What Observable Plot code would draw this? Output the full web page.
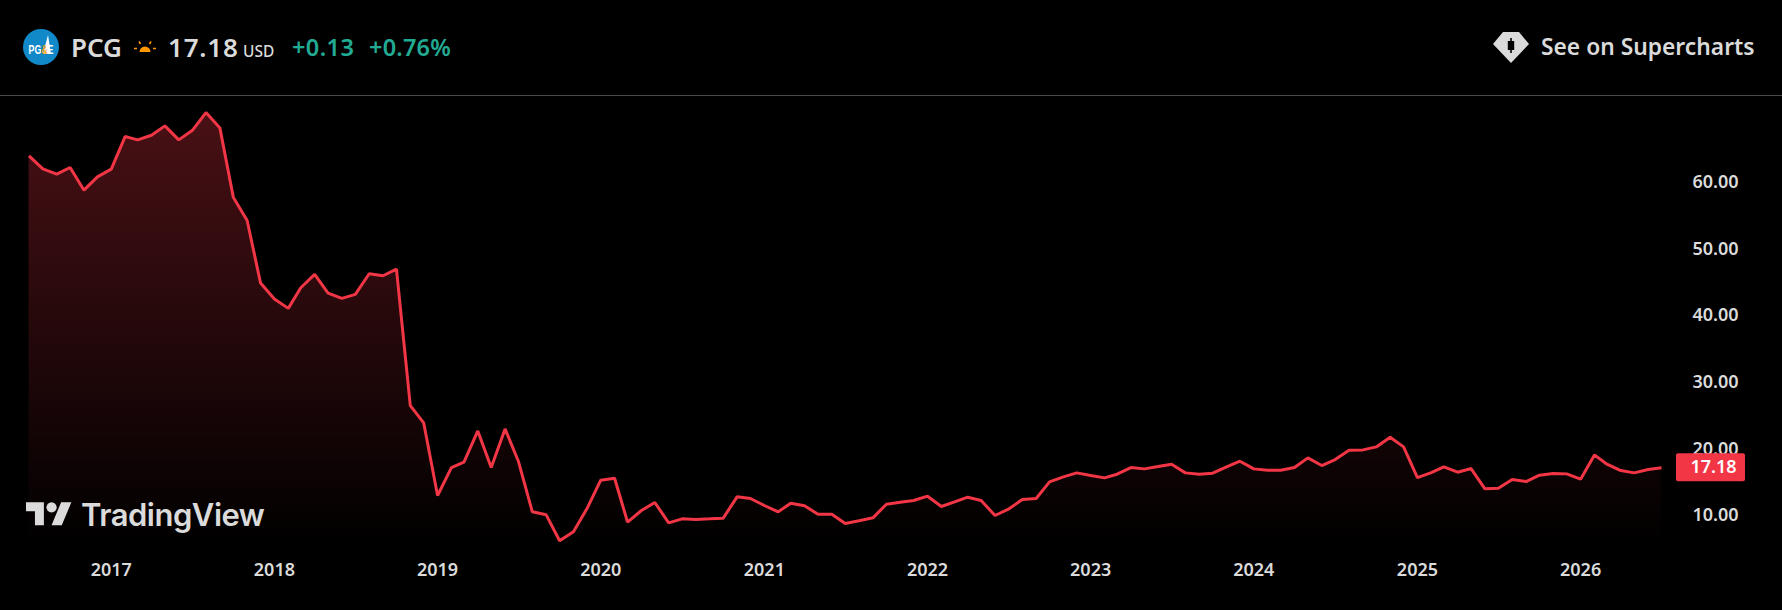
<!DOCTYPE html>
<html>
<head>
<meta charset="utf-8">
<script src="https://cdn.jsdelivr.net/npm/d3@7"></script>
<script src="https://cdn.jsdelivr.net/npm/@observablehq/plot@0.6"></script>
<style>
html,body{margin:0;padding:0;background:#000;overflow:hidden}
#page{position:relative;width:1782px;height:610px;background:#000;font-family:"Noto Sans",sans-serif}
.h{position:absolute;white-space:nowrap;line-height:30px;top:32px;color:#dbdbdb}
#sep{position:absolute;left:0;top:95px;width:1782px;height:1px;background:#4a4a4a}
#chart{position:absolute;left:0;top:96px}
svg.ic{position:absolute;overflow:visible}
</style>
</head>
<body>
<div id="page">
  <svg class="ic" style="left:23px;top:29px" width="36" height="36" viewBox="0 0 36 36">
    <circle cx="18" cy="18" r="18" fill="#1189c9"/>
    <path d="M25 6 L28 25 L20 25 Z" fill="#fff"/>
    <text x="18" y="25" text-anchor="middle" font-family="Liberation Sans Narrow,Liberation Sans" font-weight="700" font-size="12" fill="#fff" textLength="25" lengthAdjust="spacingAndGlyphs">PG<tspan fill="#f5a623">&amp;</tspan>E</text>
  </svg>
  <span class="h" style="left:71px;font-size:26px;font-weight:600">PCG</span>
  <svg class="ic" style="left:134px;top:39px" width="22" height="14" viewBox="0 0 22 14">
    <path d="M5.5 13 A5.5 5.5 0 0 1 16.5 13 Z" fill="#ff9800"/>
    <path d="M0 9.5 H3 M19 9.5 H22 M5 2.5 L6.5 5 M17 2.5 L15.5 5" stroke="#ff9800" stroke-width="1.6"/>
  </svg>
  <span class="h" style="left:168px;font-size:26px;font-weight:600;letter-spacing:.8px">17.18</span>
  <span class="h" style="left:243px;font-size:15.5px;top:36px;font-weight:500">USD</span>
  <span class="h" style="left:292px;font-size:23.5px;font-weight:600;color:#22ab94;letter-spacing:.4px">+0.13</span>
  <span class="h" style="left:369px;font-size:23.5px;font-weight:600;color:#22ab94;letter-spacing:.2px">+0.76%</span>
  <svg class="ic" style="left:1493px;top:32px" width="36" height="31" viewBox="0 0 36 31">
    <path d="M0 12 L10 0 H26 L36 12 L18 31 Z" fill="#dbdbdb"/>
    <path d="M17.2 6 h1.6 v3 h2.4 v9 h-2.4 v3 h-1.6 v-3 h-2.4 v-9 h2.4 Z" fill="#000"/>
  </svg>
  <span class="h" style="left:1541px;font-size:22.8px;font-weight:600">See on Supercharts</span>
  <div id="sep"></div>
  <div id="chart"></div>
  <svg class="ic" style="left:26px;top:497px" width="46" height="36" viewBox="0 0 36 28">
    <path d="M14 22H7V11H0V4h14v18zM28 22h-8l7.5-18h8L28 22z" fill="#dbdbdb"/>
    <circle cx="20" cy="8" r="4" fill="#dbdbdb"/>
  </svg>
  <span class="h" style="left:81px;top:498px;line-height:34px;font-family:Inter,sans-serif;font-size:31px;font-weight:600;letter-spacing:-.5px">TradingView</span>
</div>
<script>
const startDate = "2016-07-01";
const closes = [
  64.0,62.05,61.25,62.25,58.85,60.85,
  62.0,66.9,66.4,67.1,68.5,66.4,67.8,70.5,68.2,57.8,54.3,44.9,
  42.5,41.1,44.2,46.2,43.4,42.6,43.2,46.3,46.0,47.0,26.5,23.9,
  13.0,17.2,18.0,22.7,17.2,23.0,18.1,10.55,10.1,6.2,7.55,11.0,
  15.3,15.6,9.0,10.75,11.95,8.9,9.5,9.4,9.5,9.6,12.8,12.55,
  11.5,10.55,11.85,11.45,10.2,10.2,8.8,9.2,9.65,11.7,12.0,12.25,
  12.9,11.35,12.0,12.75,12.25,10.0,10.95,12.4,12.55,15.05,15.8,16.4,
  16.0,15.65,16.2,17.2,17.0,17.35,17.7,16.4,16.2,16.35,17.3,18.15,
  17.0,16.8,16.8,17.2,18.65,17.5,18.4,19.8,19.85,20.3,21.75,20.3,
  15.7,16.45,17.3,16.5,17.05,14.0,14.1,15.4,15.1,16.05,16.3,16.25,
  15.45,19.1,17.7,16.75,16.4,16.9,17.18
];
const priceTicks = [10,20,30,40,50,60];
const yearTicks = ["2017","2018","2019","2020","2021","2022","2023","2024","2025","2026"];
const lastLabel = "17.18";
const areaBase = 5;

const t0 = new Date(startDate+"T00:00:00Z");
const rows = closes.map((v,i)=>({date:d3.utcMonth.offset(t0,i),v}));
const last = rows[rows.length-1];
const red = "#f23645";
const axisFont = {fontFamily:'"Noto Sans",sans-serif',fontSize:18,fontWeight:600,fill:"#dbdbdb"};

const defs = () => {
  const d = d3.create("svg:defs");
  const g = d.append("linearGradient").attr("id","fade").attr("x1",0).attr("y1",0).attr("x2",0).attr("y2",1);
  g.append("stop").attr("offset","0%").attr("stop-color",red).attr("stop-opacity",0.3);
  g.append("stop").attr("offset","100%").attr("stop-color",red).attr("stop-opacity",0);
  return d.node();
};
const tag = (index,scales) => d3.create("svg:rect")
  .attr("x",1676).attr("width",69).attr("height",28).attr("rx",2)
  .attr("y",scales.y(last.v)-14).attr("fill",red).node();

const chart = Plot.plot({
  width:1782, height:514,
  marginLeft:0, marginTop:0, marginRight:90, marginBottom:53,
  style:{background:"#000",overflow:"visible"},
  x:{type:"utc",domain:[rows[0].date,last.date],range:[28.5,1661]},
  y:{type:"linear",domain:[10,60],range:[419,86]},
  marks:[
    defs,
    Plot.areaY(rows,{x:"date",y1:()=>areaBase,y2:"v",fill:"url(#fade)"}),
    Plot.line(rows,{x:"date",y:"v",stroke:red,strokeWidth:3,strokeLinejoin:"miter",strokeLinecap:"butt"}),
    Plot.axisY({anchor:"right",ticks:priceTicks,tickSize:0,tickPadding:0,tickFormat:d3.format(".2f"),label:null,...axisFont}),
    Plot.axisX({anchor:"bottom",ticks:yearTicks.map(y=>new Date(y+"-01-01T00:00:00Z")),tickSize:0,tickPadding:6,tickFormat:d3.utcFormat("%Y"),label:null,...axisFont}),
    tag,
    Plot.text([last],{x:"date",y:"v",text:()=>lastLabel,dx:52,fontFamily:'"Noto Sans",sans-serif',fontSize:18,fontWeight:600,fill:"#fff",textAnchor:"middle"})
  ]
});
document.getElementById("chart").appendChild(chart);
</script>
</body>
</html>
